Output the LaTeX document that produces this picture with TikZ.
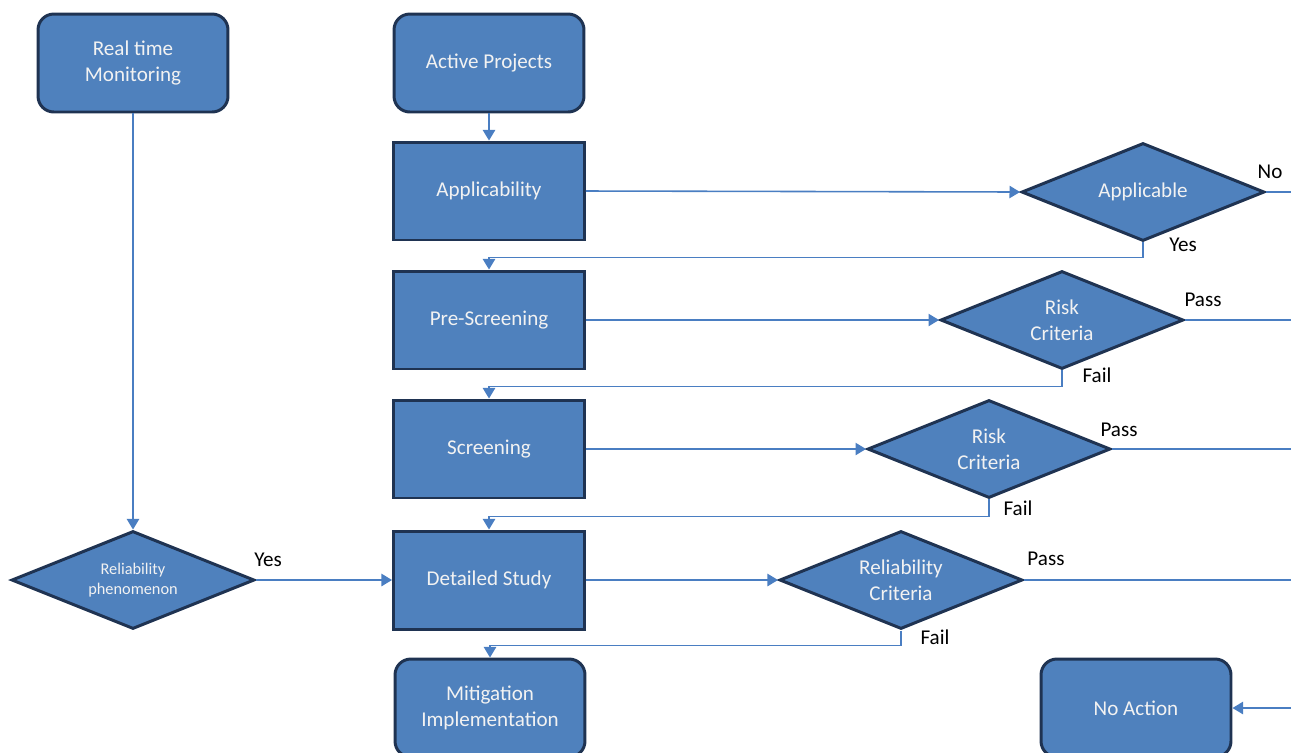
\documentclass[tikz,border=0pt]{standalone}
\usepackage{fontspec}
\setmainfont{Carlito}
\usetikzlibrary{shapes.geometric,arrows.meta}
\definecolor{boxfill}{HTML}{4F81BD}
\definecolor{boxline}{HTML}{1F3352}
\definecolor{conn}{HTML}{4A7EC2}
\definecolor{boxtext}{HTML}{F2F2F2}
\tikzset{
  base/.style={fill=boxfill, draw=boxline, line width=1.7pt, text=boxtext, align=center,
    font=\fontsize{12}{14.7}\selectfont, inner sep=0pt},
  rbox/.style={base, rectangle, rounded corners=9pt, minimum width=3.8cm, minimum height=1.96cm},
  sbox/.style={base, rectangle, minimum width=3.82cm, minimum height=1.96cm},
  dec/.style={base, diamond, minimum width=4.86cm, minimum height=1.96cm},
  dtext/.style={text=boxtext, align=center, font=\fontsize{12}{14.7}\selectfont, inner sep=0pt},
  conline/.style={draw=conn, line width=0.9pt},
  arr/.style={conline, -{Triangle[length=6pt,width=7pt]}},
  lab/.style={font=\fontsize{12}{14}\selectfont, text=black, inner sep=0pt}
}
\begin{document}
\begin{tikzpicture}[x=0.02cm,y=-0.02cm]
\useasboundingbox (0,0) rectangle (1291,752);
% nodes
\node[rbox] (rtm) at (133,63) {Real time\\Monitoring};
\node[rbox] (ap) at (489,63) {Active Projects};
\node[sbox] (appl) at (489,191) {Applicability};
\node[sbox] (pre) at (489,320) {Pre-Screening};
\node[sbox] (scr) at (489,449) {Screening};
\node[sbox] (ds) at (489,580) {Detailed Study};
\node[rbox] (mit) at (490,708) {Mitigation\\Implementation};
\node[rbox] (na) at (1136,708) {No Action};
\node[dec, label={[dtext]center:Applicable}] (d1) at (1143,192) {};
\node[dec, label={[dtext]center:Risk\\Criteria}] (d2) at (1062,320) {};
\node[dec, label={[dtext]center:Risk\\Criteria}] (d3) at (989,449) {};
\node[dec, label={[dtext]center:Reliability\\Criteria}] (d4) at (901,580) {};
\node[dec, label={[dtext, font=\fontsize{9.3}{11.5}\selectfont]center:Reliability\\phenomenon}] (rp) at (133,580) {};
% free ends at right edge
\coordinate (e1) at (1291,192);
\coordinate (e2) at (1291,320);
\coordinate (e3) at (1291,449);
\coordinate (e4) at (1291,580);
\coordinate (e5) at (1291,708);
% connectors
\draw[arr] (ap.south) -- (appl.north);
\draw[arr] (appl.east) -- (d1.west);
\draw[arr] (d1.south) -- ++(0,15) -| (pre.north);
\draw[conline] (d1.east) -- (e1);
\draw[arr] (pre.east) -- (d2.west);
\draw[arr] (d2.south) -- ++(0,16) -| (scr.north);
\draw[conline] (d2.east) -- (e2);
\draw[arr] (scr.east) -- (d3.west);
\draw[arr] (d3.south) -- ++(0,17) -| (ds.north);
\draw[conline] (d3.east) -- (e3);
\draw[arr] (ds.east) -- (d4.west);
\draw[arr] (d4.south) -- ++(0,15) -| (mit.north);
\draw[conline] (d4.east) -- (e4);
\draw[arr] (e5) -- (na.east);
\draw[arr] (rtm.south) -- (rp.north);
\draw[arr] (rp.east) -- (ds.west);
% labels
\node[lab] (l1) at (1270,172) {No};
\node[lab] (l2) at (1183,245) {Yes};
\node[lab] (l3) at (1203,300) {Pass};
\node[lab] (l4) at (1097,375) {Fail};
\node[lab] (l5) at (1119,430) {Pass};
\node[lab] (l6) at (1018,508) {Fail};
\node[lab] (l7) at (1046,559) {Pass};
\node[lab] (l8) at (935,637) {Fail};
\node[lab] (l9) at (268,560) {Yes};
\end{tikzpicture}
\end{document}
